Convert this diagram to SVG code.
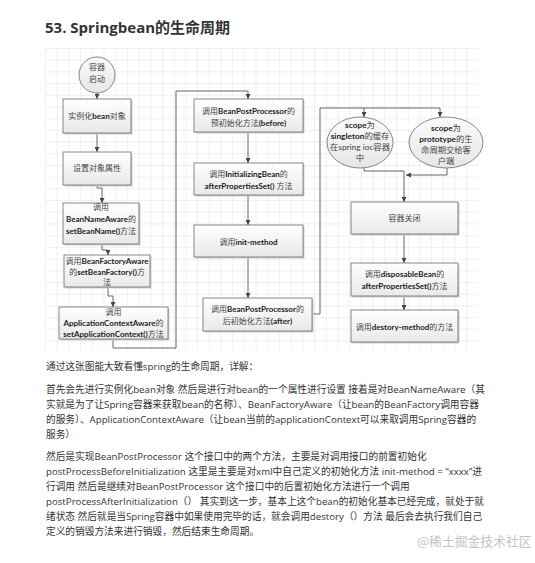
<svg xmlns="http://www.w3.org/2000/svg" width="535" height="563" viewBox="0 0 535 563">
<style>
.title{font-family:"Open Sans","Noto Sans CJK SC",sans-serif;font-size:15px;font-weight:bold;fill:#333}
.body{font-family:"Open Sans","Noto Sans CJK SC",sans-serif;font-size:9.7px;fill:#333}
.wm{font-family:"Noto Sans CJK SC",sans-serif;font-size:12.8px;fill:#c4c4c4}
.box{fill:url(#bg);stroke:#6a6a6a;stroke-width:0.8}
.sh{fill:#cfcfcf}
.ell{fill:url(#eg);stroke:#6a6a6a;stroke-width:0.8}
.t{font-family:Lato,"Noto Sans CJK SC",sans-serif;font-size:8px;fill:#444;text-anchor:middle}
.te{font-size:8.3px}
.b{font-weight:bold;fill:#222}
.c{fill:none;stroke:#555;stroke-width:0.9}
</style>
<defs>
<pattern id="grid" x="45" y="48" width="11.7" height="11.7" patternUnits="userSpaceOnUse">
<path d="M0 0H11.7M0 0V11.7" fill="none" stroke="#dcdcdc" stroke-width="0.8"/>
</pattern>
<linearGradient id="bg" x1="0" y1="0" x2="0" y2="1">
<stop offset="0" stop-color="#ffffff"/>
<stop offset="1" stop-color="#e9e9e9"/>
</linearGradient>
<linearGradient id="eg" x1="0" y1="0" x2="0" y2="1">
<stop offset="0" stop-color="#fbfbfb"/>
<stop offset="1" stop-color="#e6e6e6"/>
</linearGradient>
<marker id="arr" markerWidth="5" markerHeight="5" refX="5" refY="2.5" orient="auto" markerUnits="userSpaceOnUse">
<path d="M0,0L5,2.5L0,5z" fill="#444"/>
</marker>
</defs>
<rect width="535" height="563" fill="#fff"/>
<text class="title" x="45" y="33">53. Springbean的生命周期</text>
<rect x="45" y="48" width="433" height="302" fill="url(#grid)"/>

<g id="connectors">
<path class="c" d="M97 93V99" marker-end="url(#arr)"/>
<path class="c" d="M97 133V152" marker-end="url(#arr)"/>
<path class="c" d="M97 185V188H102V203" marker-end="url(#arr)"/>
<path class="c" d="M102 245V250H108V255" marker-end="url(#arr)"/>
<path class="c" d="M108 287V296H113V307" marker-end="url(#arr)"/>
<path class="c" d="M113 339V348H176V91H248V99" marker-end="url(#arr)"/>
<path class="c" d="M248 132V163" marker-end="url(#arr)"/>
<path class="c" d="M248 195V225" marker-end="url(#arr)"/>
<path class="c" d="M248 257V298" marker-end="url(#arr)"/>
<path class="c" d="M312 314H320V108H440V117" marker-end="url(#arr)"/>
<path class="c" d="M364 108V117" marker-end="url(#arr)"/>
<path class="c" d="M364 168V171H404"/>
<path class="c" d="M447 168V175H406" marker-end="url(#arr)"/>
<path class="c" d="M404 171V202" marker-end="url(#arr)"/>
<path class="c" d="M404 234V263" marker-end="url(#arr)"/>
<path class="c" d="M404 296V310" marker-end="url(#arr)"/>
</g>

<g id="start">
<circle cx="97" cy="75" r="18" class="ell"/>
<text class="t" x="97" y="70">容器</text>
<text class="t" x="97" y="82">启动</text>
</g>
<g id="instantiate">
<rect class="sh" x="64.5" y="100.5" width="68" height="34"/>
<rect class="box" x="63" y="99" width="68" height="34"/>
<text class="t" x="97" y="119">实例化<tspan class="b">bean</tspan>对象</text>
</g>
<g id="setprops">
<rect class="sh" x="64.5" y="153.5" width="68" height="33"/>
<rect class="box" x="63" y="152" width="68" height="33"/>
<text class="t" x="97" y="171">设置对象属性</text>
</g>
<g id="beannameaware">
<rect class="sh" x="64.5" y="204.5" width="76" height="41"/>
<rect class="box" x="63" y="203" width="76" height="41"/>
<text class="t" x="101" y="210">调用</text>
<text class="t" x="101" y="222"><tspan class="b">BeanNameAware</tspan>的</text>
<text class="t" x="101" y="234"><tspan class="b">setBeanName()</tspan>方法</text>
</g>
<g id="beanfactoryaware">
<rect class="sh" x="65.5" y="256.5" width="86" height="32"/>
<rect class="box" x="64" y="255" width="86" height="32"/>
<text class="t" x="107" y="264">调用<tspan class="b">BeanFactoryAware</tspan></text>
<text class="t" x="107" y="274.5">的<tspan class="b">setBeanFactory()</tspan>方</text>
<text class="t" x="107" y="285">法</text>
</g>
<g id="appcontextaware">
<rect class="sh" x="60.5" y="308.5" width="109" height="32"/>
<rect class="box" x="59" y="307" width="109" height="32"/>
<text class="t" x="113.5" y="315">调用</text>
<text class="t" x="113.5" y="326"><tspan class="b">ApplicationContextAware</tspan>的</text>
<text class="t" x="113.5" y="337"><tspan class="b">setApplicationContext()</tspan>方法</text>
</g>
<g id="bpp-before">
<rect class="sh" x="195.5" y="100.5" width="109" height="33"/>
<rect class="box" x="194" y="99" width="109" height="33"/>
<text class="t" x="248.5" y="114">调用<tspan class="b">BeanPostProcessor</tspan>的</text>
<text class="t" x="248.5" y="125.5">预初始化方法<tspan class="b">(before)</tspan></text>
</g>
<g id="initializingbean">
<rect class="sh" x="195.5" y="164.5" width="109" height="32"/>
<rect class="box" x="194" y="163" width="109" height="32"/>
<text class="t" x="248.5" y="177">调用<tspan class="b">InitializingBean</tspan>的</text>
<text class="t" x="248.5" y="189"><tspan class="b">afterPropertiesSet()</tspan> 方法</text>
</g>
<g id="initmethod">
<rect class="sh" x="195.5" y="226.5" width="109" height="32"/>
<rect class="box" x="194" y="225" width="109" height="32"/>
<text class="t" x="248.5" y="244.5">调用<tspan class="b">init-method</tspan></text>
</g>
<g id="bpp-after">
<rect class="sh" x="204.5" y="299.5" width="109" height="33"/>
<rect class="box" x="203" y="298" width="109" height="33"/>
<text class="t" x="257.5" y="312">调用<tspan class="b">BeanPostProcessor</tspan>的</text>
<text class="t" x="257.5" y="323.5">后初始化方法<tspan class="b">(after)</tspan></text>
</g>
<g id="singleton">
<ellipse class="ell" cx="360" cy="142.5" rx="33" ry="25.5"/>
<text class="t te" x="360" y="128"><tspan class="b">scope</tspan>为</text>
<text class="t te" x="360" y="139"><tspan class="b">singleton</tspan>的缓存</text>
<text class="t te" x="360" y="150">在spring ioc容器</text>
<text class="t te" x="360" y="161">中</text>
</g>
<g id="prototype">
<ellipse class="ell" cx="446" cy="142.5" rx="37" ry="25.5"/>
<text class="t te" x="446" y="131"><tspan class="b">scope</tspan>为</text>
<text class="t te" x="446" y="142"><tspan class="b">prototype</tspan>的生</text>
<text class="t te" x="446" y="153">命周期交给客</text>
<text class="t te" x="446" y="164">户端</text>
</g>
<g id="close">
<rect class="sh" x="352.5" y="203.5" width="107" height="32"/>
<rect class="box" x="351" y="202" width="107" height="32"/>
<text class="t" x="404.5" y="221">容器关闭</text>
</g>
<g id="disposable">
<rect class="sh" x="352.5" y="264.5" width="107" height="33"/>
<rect class="box" x="351" y="263" width="107" height="33"/>
<text class="t" x="404.5" y="277">调用<tspan class="b">disposableBean</tspan>的</text>
<text class="t" x="404.5" y="289"><tspan class="b">afterPropertiesSet()</tspan>方法</text>
</g>
<g id="destroy">
<rect class="sh" x="352.5" y="311.5" width="107" height="32"/>
<rect class="box" x="351" y="310" width="107" height="32"/>
<text class="t" x="404.5" y="329.5">调用<tspan class="b">destory-method</tspan>的方法</text>
</g>

<text class="body" x="46" y="370">通过这张图能大致看懂spring的生命周期，详解：</text>
<text class="body" x="46" y="393">首先会先进行实例化bean对象 然后是进行对bean的一个属性进行设置 接着是对BeanNameAware（其</text>
<text class="body" x="46" y="408">实就是为了让Spring容器来获取bean的名称）、BeanFactoryAware（让bean的BeanFactory调用容器</text>
<text class="body" x="46" y="423">的服务）、ApplicationContextAware（让bean当前的applicationContext可以来取调用Spring容器的</text>
<text class="body" x="46" y="438">服务）</text>
<text class="body" x="46" y="460">然后是实现BeanPostProcessor 这个接口中的两个方法，主要是对调用接口的前置初始化</text>
<text class="body" x="46" y="475">postProcessBeforeInitialization 这里是主要是对xml中自己定义的初始化方法 init-method = “xxxx”进</text>
<text class="body" x="46" y="490">行调用 然后是继续对BeanPostProcessor 这个接口中的后置初始化方法进行一个调用</text>
<text class="body" x="46" y="505">postProcessAfterInitialization（） 其实到这一步，基本上这个bean的初始化基本已经完成，就处于就</text>
<text class="body" x="46" y="520">绪状态 然后就是当Spring容器中如果使用完毕的话，就会调用destory（）方法 最后会去执行我们自己</text>
<text class="body" x="46" y="535">定义的销毁方法来进行销毁，然后结束生命周期。</text>
<text class="wm" x="417" y="546">@稀土掘金技术社区</text>
</svg>
